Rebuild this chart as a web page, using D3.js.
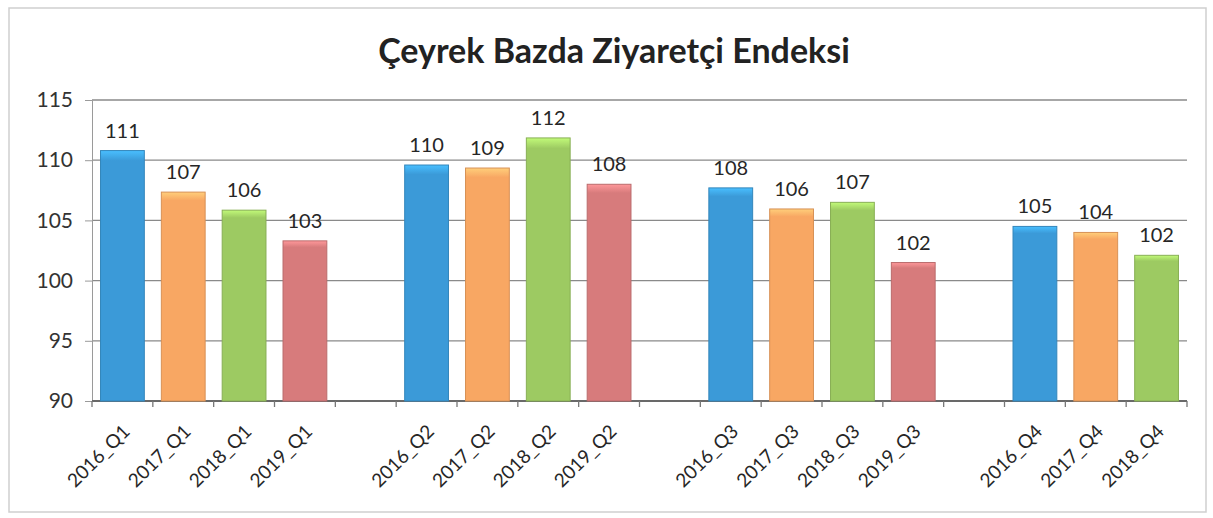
<!DOCTYPE html>
<html>
<head>
<meta charset="utf-8">
<script src="https://cdnjs.cloudflare.com/ajax/libs/d3/7.8.5/d3.min.js"></script>
<style>
  html, body { margin: 0; padding: 0; background: #fff; }
</style>
</head>
<body>
<div id="chart"></div>
<script>
// slots on the x axis; null = empty slot between quarters
const categories = ["2016_Q1", "2017_Q1", "2018_Q1", "2019_Q1", null,
                    "2016_Q2", "2017_Q2", "2018_Q2", "2019_Q2", null,
                    "2016_Q3", "2017_Q3", "2018_Q3", "2019_Q3", null,
                    "2016_Q4", "2017_Q4", "2018_Q4"];
const values = [110.8, 107.35, 105.85, 103.3, null,
                109.6, 109.35, 111.85, 108.0, null,
                107.7, 105.95, 106.5, 101.5, null,
                104.5, 104.0, 102.1];
const labels = ["111", "107", "106", "103", null,
                "110", "109", "112", "108", null,
                "108", "106", "107", "102", null,
                "105", "104", "102"];
const yTicks = [90, 95, 100, 105, 110, 115];
const yearColors = { "2016": "#3b9ad8", "2017": "#f8a763", "2018": "#9dca62", "2019": "#d77b7c" };

const W = 1213, H = 518;
const margin = { top: 100, right: 26, bottom: 117, left: 92 };
const w = W - margin.left - margin.right;
const h = H - margin.top - margin.bottom;
const FONT = "Lato, 'Open Sans', sans-serif";

const svg = d3.select("#chart").append("svg")
  .attr("width", W).attr("height", H)
  .style("font-family", FONT);

const defs = svg.append("defs");
Object.entries(yearColors).forEach(([yr, c]) => {
  const gr = defs.append("linearGradient").attr("id", "g" + yr)
    .attr("x1", 0).attr("x2", 0).attr("y1", 0).attr("y2", 1);
  gr.append("stop").attr("offset", "0%").attr("stop-color", d3.color(c).brighter(0.6));
  gr.append("stop").attr("offset", "4%").attr("stop-color", c);
  gr.append("stop").attr("offset", "100%").attr("stop-color", c);
});

/* outer frame */
svg.append("rect").attr("x", 9).attr("y", 8).attr("width", W - 16).attr("height", H - 14)
  .attr("fill", "#fff").attr("stroke", "#cfcfcf").attr("stroke-width", 1.5);

svg.append("text").attr("x", 614).attr("y", 63).attr("text-anchor", "middle")
  .style("font-size", "34px").style("font-weight", "bold").style("fill", "#222")
  .text("Çeyrek Bazda Ziyaretçi Endeksi");

const g = svg.append("g").attr("transform", `translate(${margin.left},${margin.top})`);

const x = d3.scaleBand().domain(d3.range(categories.length)).range([0, w]).paddingInner(0.28).paddingOuter(0.14);
const y = d3.scaleLinear().domain([90, 115]).range([h, 0]);
const step = x.step();

/* gridlines */
g.append("g").selectAll("line").data(yTicks).enter().append("line")
  .attr("x1", 0).attr("x2", w).attr("y1", d => y(d)).attr("y2", d => y(d))
  .attr("stroke", "#8a8a8a").attr("stroke-width", 1.3);

/* y axis */
const yAxis = g.append("g")
  .call(d3.axisLeft(y).tickValues(yTicks).tickSize(7).tickPadding(12));
yAxis.select(".domain").attr("stroke", "#9a9a9a");
yAxis.selectAll(".tick line").attr("stroke", "#9a9a9a");
yAxis.selectAll("text").style("font-size", "21px").style("fill", "#333")
  .style("font-family", FONT);

/* x axis baseline and boundary ticks */
g.append("line").attr("x1", 0).attr("x2", w).attr("y1", h).attr("y2", h)
  .attr("stroke", "#555").attr("stroke-width", 1.5);
g.append("g").selectAll("line").data(d3.range(categories.length + 1)).enter().append("line")
  .attr("x1", i => i * step).attr("x2", i => i * step)
  .attr("y1", h).attr("y2", h + 6).attr("stroke", "#777").attr("stroke-width", 1.3);

const idx = d3.range(categories.length).filter(i => categories[i] !== null);

/* bars */
g.append("g").selectAll("rect").data(idx).enter().append("rect")
  .attr("x", i => x(i)).attr("width", x.bandwidth())
  .attr("y", i => y(values[i])).attr("height", i => h - y(values[i]))
  .attr("fill", i => `url(#g${categories[i].slice(0, 4)})`)
  .attr("stroke", i => d3.color(yearColors[categories[i].slice(0, 4)]).darker(0.4))
  .attr("stroke-width", 1);

/* value labels */
g.append("g").selectAll("text").data(idx).enter().append("text")
  .attr("x", i => x(i) + x.bandwidth() / 2).attr("y", i => y(values[i]) - 13)
  .attr("text-anchor", "middle").style("font-size", "20px").style("fill", "#262626")
  .text(i => labels[i]);

/* category labels */
g.append("g").selectAll("text").data(idx).enter().append("text")
  .attr("transform", i => `translate(${x(i) + x.bandwidth() / 2 + 4},${h + 27}) rotate(-45)`)
  .attr("text-anchor", "end").attr("dy", "0.35em")
  .style("font-size", "19px").style("fill", "#262626")
  .text(i => categories[i]);
</script>
</body>
</html>
